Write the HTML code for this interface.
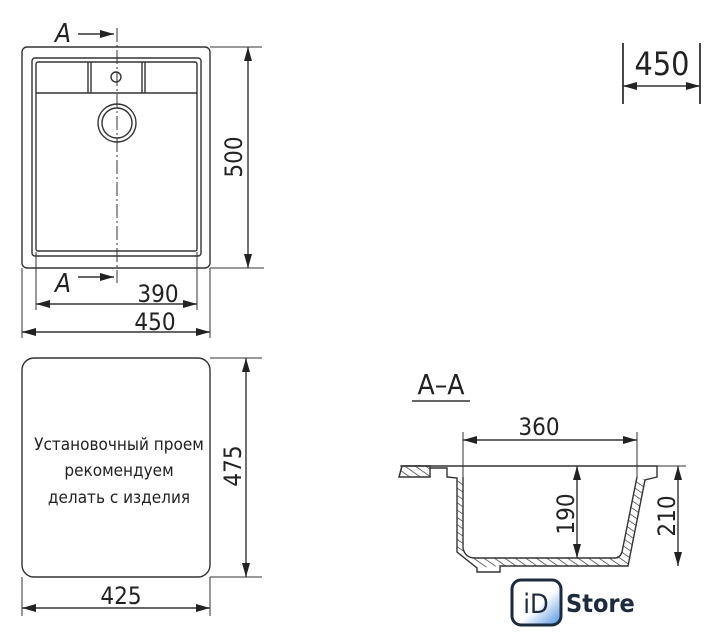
<!DOCTYPE html>
<html><head><meta charset="utf-8"><style>
html,body{margin:0;padding:0;background:#fff;}
svg{display:block}
text{font-family:"DejaVu Sans Condensed","Liberation Sans",sans-serif;fill:#222}
</style></head><body>
<svg width="724" height="640" viewBox="0 0 724 640" xmlns="http://www.w3.org/2000/svg">
<defs>
<marker id="a" viewBox="0 0 14 8" refX="14" refY="4" markerWidth="14" markerHeight="8" orient="auto-start-reverse" markerUnits="userSpaceOnUse"><path d="M0,0 L14,4 L0,8 Z" fill="#222"/></marker>
<pattern id="h" width="6" height="6" patternUnits="userSpaceOnUse" patternTransform="rotate(-55)"><line x1="0" y1="0" x2="0" y2="6" stroke="#333" stroke-width="1.4"/></pattern>
<linearGradient id="g" x1="0" y1="0" x2="1" y2="1"><stop offset="0.55" stop-color="#fff"/><stop offset="1" stop-color="#4d8fe0"/></linearGradient>
</defs>
<g stroke="#333" fill="none" stroke-width="1.4">
<rect x="22" y="47" width="188" height="221" rx="5"/>
<rect x="32" y="58" width="169" height="198" rx="3"/>
<rect x="36" y="62" width="161" height="189" rx="2"/>
<line x1="36" y1="93" x2="197" y2="93"/>
<line x1="88" y1="62" x2="88" y2="93"/><line x1="91" y1="62" x2="91" y2="93"/>
<line x1="142" y1="62" x2="142" y2="93"/><line x1="145" y1="62" x2="145" y2="93"/>
<circle cx="116" cy="77" r="5"/>
<circle cx="117" cy="123" r="19"/><circle cx="117" cy="123" r="15"/>
<line x1="117" y1="28" x2="117" y2="283" stroke-dasharray="14,3,2,3" stroke-width="1"/>
<line x1="78" y1="34" x2="114" y2="34" marker-end="url(#a)"/>
<line x1="78" y1="277" x2="114" y2="277" marker-end="url(#a)"/>
<line x1="210" y1="47" x2="262" y2="47" stroke-width="1"/>
<line x1="210" y1="268" x2="264" y2="268" stroke-width="1"/>
<line x1="248" y1="47" x2="248" y2="268" marker-start="url(#a)" marker-end="url(#a)"/>
<line x1="36" y1="252" x2="36" y2="310" stroke-width="1"/><line x1="197" y1="252" x2="197" y2="310" stroke-width="1"/>
<line x1="22" y1="268" x2="22" y2="338" stroke-width="1"/><line x1="210" y1="268" x2="210" y2="338" stroke-width="1"/>
<line x1="36" y1="304" x2="197" y2="304" marker-start="url(#a)" marker-end="url(#a)"/>
<line x1="22" y1="332" x2="210" y2="332" marker-start="url(#a)" marker-end="url(#a)"/>
<line x1="623" y1="43" x2="623" y2="104" stroke-width="1.8"/>
<line x1="700" y1="43" x2="700" y2="104" stroke-width="1.8"/>
<line x1="623" y1="86" x2="700" y2="86" marker-start="url(#a)" marker-end="url(#a)"/>
<rect x="22" y="358" width="188" height="219" rx="12"/>
<line x1="210" y1="358" x2="262" y2="358" stroke-width="1"/>
<line x1="210" y1="577" x2="262" y2="577" stroke-width="1"/>
<line x1="246" y1="358" x2="246" y2="577" marker-start="url(#a)" marker-end="url(#a)"/>
<line x1="22" y1="577" x2="22" y2="616" stroke-width="1"/><line x1="210" y1="577" x2="210" y2="616" stroke-width="1"/>
<line x1="22" y1="608" x2="210" y2="608" marker-start="url(#a)" marker-end="url(#a)"/>
<line x1="412" y1="401" x2="470" y2="401" stroke-width="1.6"/>
<line x1="463" y1="432" x2="463" y2="478" stroke-width="1"/>
<line x1="637" y1="432" x2="637" y2="478" stroke-width="1"/>
<line x1="463" y1="440" x2="637" y2="440" marker-start="url(#a)" marker-end="url(#a)"/>
<line x1="400" y1="466" x2="686" y2="466" stroke-width="1"/>
<path d="M402,466 L430,466 L430,477 L399,477 Z" fill="url(#h)"/>
<path d="M399,477 L402,466 L657,466 L657,477 L645,480 L628,566 L500,566 L500,572 L477,572 L477,568 L457,552 L457,478 L447,477 L447,468 L430,468" />
<path d="M463,477 L463,548 Q465,558 475,558 L615,558 Q620,558 622,552 L637,477" />
<path d="M457,478 L463,478 L463,548 Q465,558 475,558 L615,558 L622,552 L637,477 L645,480 L628,566 L500,566 L477,568 L457,552 Z" fill="url(#h)" stroke="none"/>
<line x1="577" y1="466" x2="577" y2="558" marker-start="url(#a)" marker-end="url(#a)"/>
<line x1="678" y1="466" x2="678" y2="566" marker-start="url(#a)" marker-end="url(#a)"/>
</g>
<g font-size="24">
<text x="55" y="42" font-style="italic" font-size="26">A</text>
<text x="55" y="292" font-style="italic" font-size="26">A</text>
<text x="158" y="302" text-anchor="middle">390</text>
<text x="155" y="330" text-anchor="middle">450</text>
<text x="242" y="157" transform="rotate(-90 242 157)" text-anchor="middle">500</text>
<text x="662" y="75" font-size="32" text-anchor="middle">450</text>
<text x="119" y="450" font-size="17" text-anchor="middle">Установочный проем</text>
<text x="119" y="476" font-size="17" text-anchor="middle">рекомендуем</text>
<text x="119" y="503" font-size="17" text-anchor="middle">делать с изделия</text>
<text x="241" y="466" transform="rotate(-90 241 466)" text-anchor="middle">475</text>
<text x="121" y="604" text-anchor="middle">425</text>
<text x="441" y="394" text-anchor="middle" font-size="28">A–A</text>
<text x="539" y="435" text-anchor="middle">360</text>
<text x="574" y="514" transform="rotate(-90 574 514)" text-anchor="middle">190</text>
<text x="675" y="516" transform="rotate(-90 675 516)" text-anchor="middle">210</text>
</g>
<rect x="512" y="580" width="49" height="45" rx="9" fill="url(#g)" stroke="#1d2b3e" stroke-width="3"/>
<text x="536" y="613" text-anchor="middle" font-family="Liberation Sans,sans-serif" font-size="27" style="fill:#1d2b3e">iD</text>
<text x="566" y="612" font-family="Liberation Sans,sans-serif" font-weight="bold" font-size="25" style="fill:#1d2b3e">Store</text>
</svg>
</body></html>
